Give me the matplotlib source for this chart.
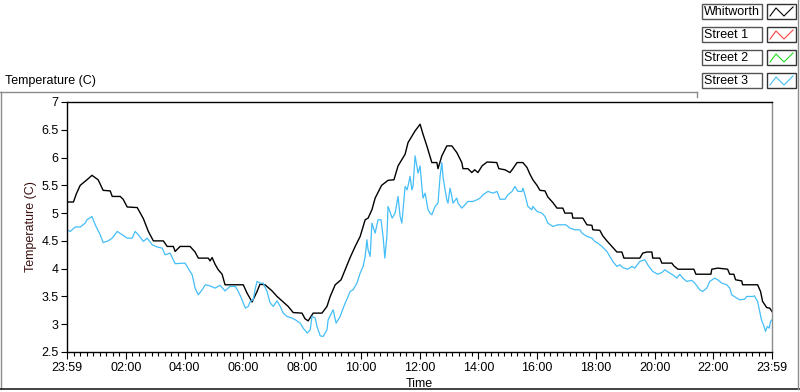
import matplotlib
matplotlib.use("Agg")
import matplotlib.pyplot as plt
import matplotlib.patches as patches
from matplotlib.ticker import FixedLocator, AutoMinorLocator, MultipleLocator

# hours since the start of the record (23:59 the day before)
hours_whitworth = [
    0.00, 0.22, 0.32, 0.45, 0.68, 0.85, 1.06, 1.23, 1.47, 1.54, 1.81, 1.91, 2.05, 2.39,
    2.60, 2.77, 2.94, 3.28, 3.41, 3.62, 3.68, 3.85, 4.19, 4.36, 4.47, 4.81, 4.87, 4.94,
    5.04, 5.15, 5.28, 5.38, 6.00, 6.13, 6.30, 6.47, 6.57, 6.74, 6.98, 7.15, 7.36, 7.53,
    7.70, 8.00, 8.10, 8.21, 8.38, 8.68, 8.85, 8.96, 9.13, 9.33, 9.47, 9.63, 9.81, 9.98,
    10.15, 10.25, 10.38, 10.49, 10.71, 10.93, 11.13, 11.27, 11.51, 11.61, 11.85, 12.02,
    12.12, 12.25, 12.42, 12.59, 12.63, 12.76, 12.93, 13.10, 13.27, 13.44, 13.48, 13.65,
    13.78, 13.88, 13.99, 14.13, 14.30, 14.63, 14.70, 14.91, 15.08, 15.18, 15.32, 15.52,
    15.66, 15.76, 15.86, 16.00, 16.10, 16.27, 16.37, 16.54, 16.68, 16.88, 16.95, 17.19,
    17.22, 17.56, 17.70, 17.87, 17.90, 18.14, 18.24, 18.38, 18.55, 18.72, 18.89, 18.96,
    19.50, 19.60, 19.74, 19.91, 19.94, 20.18, 20.25, 20.59, 20.66, 20.80, 21.34, 21.41,
    21.92, 21.95, 22.15, 22.49, 22.56, 22.70, 22.76, 22.97, 23.00, 23.51, 23.61, 23.68,
    23.82, 23.92, 24.00,
]
temp_whitworth = [
    5.20, 5.20, 5.35, 5.50, 5.60, 5.68, 5.60, 5.41, 5.40, 5.30, 5.30, 5.25, 5.11, 5.10,
    4.90, 4.67, 4.50, 4.50, 4.40, 4.40, 4.31, 4.40, 4.40, 4.30, 4.19, 4.19, 4.14, 4.20,
    4.08, 3.98, 3.90, 3.71, 3.71, 3.56, 3.40, 3.59, 3.72, 3.71, 3.60, 3.50, 3.40, 3.32,
    3.21, 3.20, 3.10, 3.06, 3.20, 3.20, 3.32, 3.50, 3.71, 3.80, 3.98, 4.19, 4.40, 4.58,
    4.88, 4.91, 5.06, 5.27, 5.50, 5.59, 5.60, 5.85, 6.06, 6.27, 6.48, 6.60,
    6.42, 6.21, 5.91, 5.91, 5.80, 6.03, 6.21, 6.21, 6.09, 5.91, 5.80, 5.80,
    5.73, 5.78, 5.73, 5.85, 5.92, 5.91, 5.80, 5.78, 5.73, 5.80, 5.91, 5.91,
    5.82, 5.70, 5.60, 5.50, 5.41, 5.40, 5.29, 5.19, 5.09, 5.09, 5.00, 5.00,
    4.91, 4.91, 4.79, 4.78, 4.70, 4.69, 4.59, 4.50, 4.40, 4.30, 4.30, 4.19,
    4.19, 4.28, 4.30, 4.30, 4.19, 4.19, 4.10, 4.10, 4.05, 3.99, 3.99, 3.90,
    3.90, 3.99, 4.01, 3.99, 3.90, 3.90, 3.80, 3.78, 3.71, 3.71, 3.59, 3.41,
    3.30, 3.29, 3.23,
]

hours_street3 = [
    0.00, 0.11, 0.28, 0.45, 0.62, 0.68, 0.85, 0.96, 1.13, 1.23, 1.40, 1.54, 1.71, 1.88,
    2.05, 2.22, 2.32, 2.43, 2.60, 2.73, 2.90, 3.07, 3.24, 3.34, 3.51, 3.68, 4.02, 4.12,
    4.26, 4.36, 4.47, 4.60, 4.71, 4.87, 5.04, 5.21, 5.38, 5.55, 5.73, 5.83, 5.96, 6.07,
    6.17, 6.24, 6.34, 6.40, 6.47, 6.57, 6.68, 6.81, 6.91, 7.02, 7.15, 7.26, 7.36, 7.49,
    7.66, 7.77, 7.94, 8.04, 8.18, 8.28, 8.34, 8.45, 8.51, 8.62, 8.72, 8.85, 8.89, 9.06,
    9.16, 9.30, 9.36, 9.47, 9.57, 9.64, 9.74, 9.87, 9.98, 10.08, 10.15, 10.21, 10.25,
    10.32, 10.38, 10.49, 10.59, 10.69, 10.76, 10.82, 10.89, 10.93, 11.07, 11.17, 11.27,
    11.34, 11.40, 11.44, 11.51, 11.58, 11.68, 11.74, 11.78, 11.85, 11.92, 11.95, 12.02,
    12.09, 12.12, 12.19, 12.25, 12.29, 12.36, 12.42, 12.53, 12.63, 12.70, 12.76, 12.80,
    12.87, 12.93, 12.97, 13.04, 13.10, 13.14, 13.27, 13.31, 13.44, 13.55, 13.65, 13.82,
    13.96, 14.06, 14.16, 14.33, 14.50, 14.64, 14.74, 14.91, 15.01, 15.15, 15.25, 15.35,
    15.49, 15.52, 15.59, 15.69, 15.82, 15.86, 16.00, 16.17, 16.27, 16.37, 16.54, 16.71,
    16.98, 17.12, 17.29, 17.46, 17.53, 17.70, 17.87, 17.97, 18.07, 18.21, 18.38, 18.48,
    18.58, 18.72, 18.82, 18.92, 19.09, 19.23, 19.33, 19.50, 19.67, 19.77, 19.94, 20.11,
    20.25, 20.35, 20.52, 20.62, 20.76, 20.86, 20.96, 21.10, 21.27, 21.37, 21.54, 21.64,
    21.78, 21.88, 22.05, 22.15, 22.29, 22.46, 22.56, 22.63, 22.80, 22.90, 23.07, 23.14,
    23.34, 23.40, 23.51, 23.57, 23.64, 23.71, 23.78, 23.84, 23.91, 23.95, 24.00,
]
temp_street3 = [
    4.70, 4.67, 4.75, 4.75, 4.82, 4.88, 4.94, 4.79, 4.61, 4.47, 4.50, 4.55, 4.67, 4.61,
    4.55, 4.55, 4.67, 4.61, 4.49, 4.55, 4.43, 4.39, 4.37, 4.25, 4.28, 4.09, 4.10, 4.01,
    3.89, 3.65, 3.53, 3.62, 3.71, 3.69, 3.65, 3.70, 3.60, 3.68, 3.68, 3.59, 3.44, 3.29,
    3.32, 3.41, 3.44, 3.62, 3.77, 3.74, 3.74, 3.59, 3.39, 3.32, 3.42, 3.32, 3.20, 3.14,
    3.11, 3.08, 3.02, 2.93, 2.84, 2.90, 3.14, 3.11, 2.96, 2.79, 2.78, 2.90, 3.08, 3.26,
    3.02, 3.14, 3.23, 3.38, 3.50, 3.59, 3.62, 3.74, 3.92, 4.04, 4.22, 4.52, 4.34,
    4.22, 4.82, 4.64, 4.88, 4.88, 4.58, 4.19, 4.58, 5.12, 4.91, 5.00, 5.30,
    4.94, 4.82, 5.06, 5.48, 5.42, 5.66, 5.42, 5.48, 6.03, 5.82, 5.72, 5.85,
    5.42, 5.27, 5.36, 5.18, 5.06, 5.00, 4.97, 5.12, 5.18, 5.66, 5.91, 5.66,
    5.42, 5.24, 5.18, 5.45, 5.30, 5.18, 5.27, 5.18, 5.09, 5.15, 5.21, 5.21,
    5.24, 5.27, 5.33, 5.39, 5.36, 5.39, 5.25, 5.25, 5.33, 5.39, 5.48, 5.39,
    5.39, 5.45, 5.33, 5.12, 5.06, 5.12, 5.03, 5.00, 4.94, 4.82, 4.76, 4.79,
    4.79, 4.73, 4.70, 4.70, 4.64, 4.58, 4.55, 4.49, 4.46, 4.40, 4.31, 4.22,
    4.13, 4.04, 4.07, 4.02, 3.99, 4.04, 4.01, 4.13, 4.16, 4.07, 3.95, 3.90,
    3.93, 3.98, 3.92, 3.89, 3.83, 3.90, 3.83, 3.77, 3.79, 3.74, 3.62, 3.59,
    3.65, 3.77, 3.83, 3.80, 3.74, 3.71, 3.65, 3.53, 3.47, 3.44, 3.45, 3.50,
    3.50, 3.51, 3.41, 3.26, 3.08, 2.99, 2.87, 2.96, 2.93, 3.05, 3.08,
]

series_names = ["Whitworth", "Street 1", "Street 2", "Street 3"]
series_colors = ["#000000", "#ff4040", "#20e020", "#44bef8"]

x_ticks = [0, 2, 4, 6, 8, 10, 12, 14, 16, 18, 20, 22, 24]
x_tick_labels = ["23:59", "02:00", "04:00", "06:00", "08:00", "10:00", "12:00",
                 "14:00", "16:00", "18:00", "20:00", "22:00", "23:59"]

plt.rcParams["font.family"] = ["Liberation Sans", "DejaVu Sans"]
plt.rcParams["font.size"] = 9

W, H = 800, 392
fig = plt.figure(figsize=(W / 100, H / 100), dpi=100)

# main plot area, placed in pixels
left, right, top, bottom = 67, 772, 102, 352
ax = fig.add_axes([left / W, 1 - bottom / H, (right - left) / W, (bottom - top) / H])

ax.plot(hours_whitworth, temp_whitworth, color=series_colors[0], lw=1.0)
ax.plot(hours_street3, temp_street3, color=series_colors[3], lw=0.9)

ax.set_xlim(0, 24)
ax.set_ylim(2.5, 7)
ax.xaxis.set_major_locator(FixedLocator(x_ticks))
ax.set_xticklabels(x_tick_labels)
ax.xaxis.set_minor_locator(AutoMinorLocator(9))
ax.yaxis.set_major_locator(MultipleLocator(0.5))
ax.yaxis.set_major_formatter(plt.FuncFormatter(lambda v, p: f"{v:g}"))

ax.tick_params(axis="x", which="major", length=5, width=0.8, pad=2, direction="out")
ax.tick_params(axis="x", which="minor", length=3, width=0.8, direction="out")
ax.tick_params(axis="y", which="major", length=4, width=0.8, pad=2, direction="out")

for side in ["left", "bottom", "top"]:
    ax.spines[side].set_color("black")
    ax.spines[side].set_linewidth(1.0)
ax.spines["right"].set_color("#8c8c8c")
ax.spines["right"].set_linewidth(1.0)

ax.set_xlabel("Time", labelpad=3)
ax.set_ylabel("Temperature (C)", color="#3a1010", labelpad=3)

# overlay in pixel coordinates for the panel frame and legend
ov = fig.add_axes([0, 0, 1, 1])
ov.set_xlim(0, W)
ov.set_ylim(H, 0)
ov.axis("off")

frame = "#8c8c8c"
ov.plot([0, 697], [91.5, 91.5], color=frame, lw=1.0)
ov.plot([697, 697], [91.5, 97], color=frame, lw=1.0)
ov.plot([0.5, 0.5], [91.5, 389], color=frame, lw=1.0)
ov.plot([0, W], [389, 389], color="#222222", lw=1.2)
ov.plot([797.5, 797.5], [0, 389], color=frame, lw=1.0)

ov.text(5, 81, "Temperature (C)", ha="left", va="center")

for i, (name, col) in enumerate(zip(series_names, series_colors)):
    y0 = 4 + i * 23
    ov.add_patch(patches.Rectangle((702, y0), 60, 15, facecolor="white",
                                   edgecolor="#555555", lw=1.0))
    ov.text(704, y0 + 7.8, name, ha="left", va="center")
    ov.add_patch(patches.Rectangle((767, y0), 29, 15, facecolor="white",
                                   edgecolor="#333333", lw=1.0))
    ov.plot([770, 776, 784, 793], [y0 + 12, y0 + 4, y0 + 12, y0 + 3],
            color=col, lw=0.8)

fig.savefig("out.png", dpi=100)
